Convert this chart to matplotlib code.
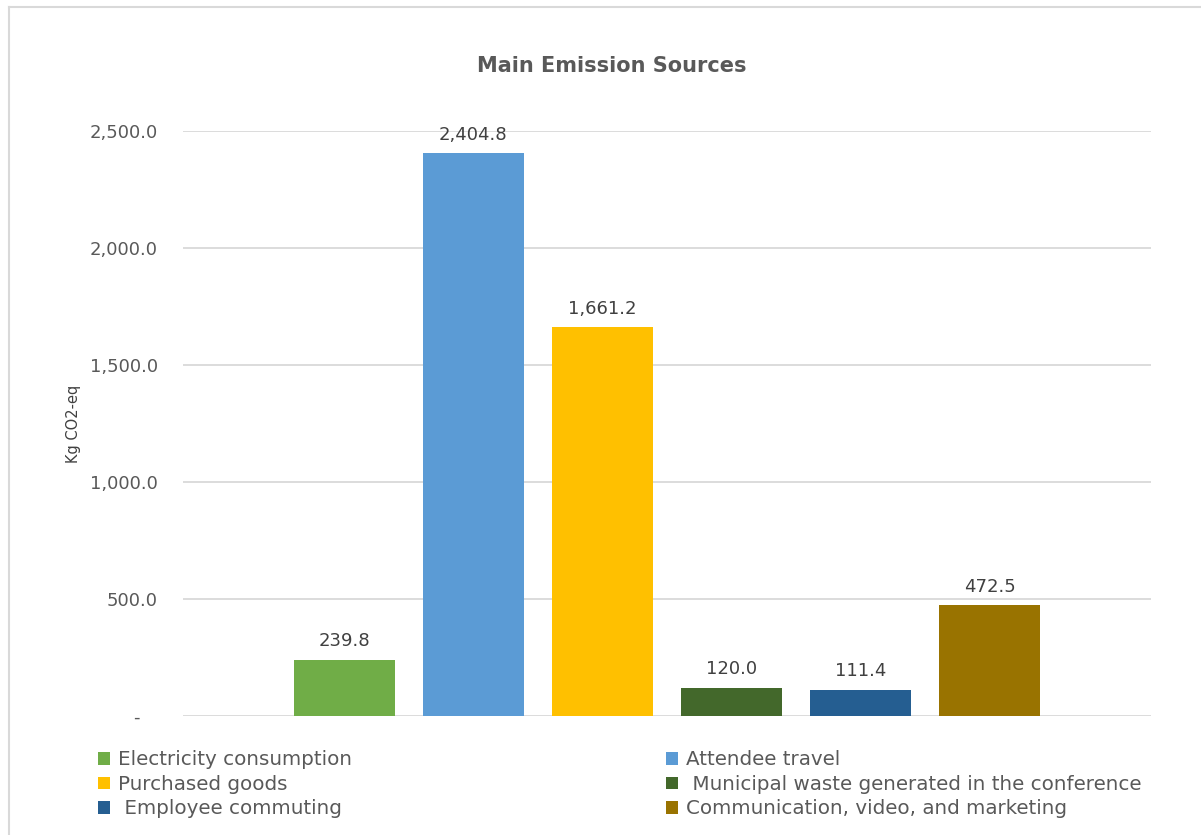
import matplotlib.pyplot as plt
from matplotlib.patches import Patch
from matplotlib.lines import Line2D

# data
sources = ["Electricity consumption", "Attendee travel", "Purchased goods",
           " Municipal waste generated in the conference", " Employee commuting",
           "Communication, video, and marketing"]
emissions = [239.8, 2404.8, 1661.2, 120.0, 111.4, 472.5]
colors = ["#70AD47", "#5B9BD5", "#FFC000", "#43682B", "#255E91", "#997300"]
yticks = [0, 500, 1000, 1500, 2000, 2500]

plt.rcParams["font.family"] = ["DejaVu Sans"]
text_gray = "#595959"

fig = plt.figure(figsize=(12.01, 8.35), dpi=100)
ax = fig.add_axes([0.1524, 0.1425, 0.8060, 0.7006])

xs = list(range(len(emissions)))
bars = ax.bar(xs, emissions, width=0.78, color=colors, zorder=3)
for x, v in zip(xs, emissions):
    ax.annotate(f"{v:,.1f}", (x, v), xytext=(0, 7), textcoords="offset points",
                ha="center", va="bottom", fontsize=13, color="#404040")

ax.set_xlim(-1.25, len(emissions) + 0.25)
ax.set_ylim(0, 2500)
ax.set_yticks(yticks)
# accounting-style zero: a dash with some trailing room
ax.set_yticklabels(["-   "] + [f"{t:,.1f}" for t in yticks[1:]])
ax.tick_params(axis="y", length=0, pad=18, labelsize=13, labelcolor=text_gray)
ax.set_xticks([])
ax.yaxis.grid(True, color="#D9D9D9", linewidth=1.3, zorder=0)
for s in ax.spines.values():
    s.set_visible(False)
ax.set_ylabel("Kg CO2-eq", fontsize=10.5, color="#404040", labelpad=6)

fig.text(0.5096, 0.921, "Main Emission Sources", ha="center", va="center",
         fontsize=15, fontweight="bold", color=text_gray)

# legend reads row by row in the reference, matplotlib fills columns first
order = [0, 2, 4, 1, 3, 5]
handles = [Patch(facecolor=colors[i], edgecolor="none") for i in order]
labels = [sources[i] for i in order]
fig.legend(handles, labels, loc="upper left", bbox_to_anchor=(0.075, 0.111),
           ncol=2, frameon=False, fontsize=14.3, labelcolor=text_gray,
           handlelength=0.6, handleheight=0.6, handletextpad=0.4,
           columnspacing=15.8, labelspacing=0.28, borderaxespad=0)

# chart border (only left and top visible in the crop)
fig.add_artist(Line2D([0.0075, 0.0075], [0.0, 0.9917], color="#D9D9D9", linewidth=1.5,
                      transform=fig.transFigure))
fig.add_artist(Line2D([0.0075, 1.0], [0.9917, 0.9917], color="#D9D9D9", linewidth=1.5,
                      transform=fig.transFigure))

fig.savefig("out.png", dpi=100)
